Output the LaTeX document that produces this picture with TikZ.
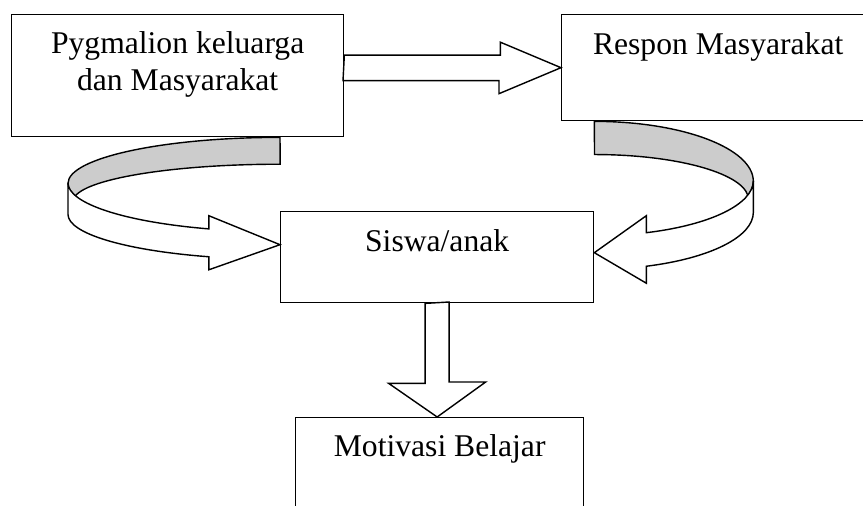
\documentclass[tikz,border=0pt]{standalone}
\usepackage{fontspec}
\setmainfont{Liberation Serif}
\usetikzlibrary{calc}

\tikzset{
  kotak/.style={draw, line width=0.8pt, anchor=north west, inner sep=0pt},
  teks/.style={anchor=base, inner sep=0pt, align=center, font=\fontsize{18}{21.5}\selectfont},
  blok/.style={draw, fill=white, line width=0.8pt, line join=miter},
  pita/.style={blok, fill=gray!40}
}

\begin{document}
\begin{tikzpicture}[x=0.02cm, y=-0.02cm]
\clip (0,0) rectangle (863,506);
\node[kotak, minimum width=6.64cm, minimum height=2.44cm] at (11,14) (pyg) {};
\node[kotak, minimum width=6.26cm, minimum height=2.12cm] at (561,14) (respon) {};
\node[kotak, minimum width=6.26cm, minimum height=1.82cm] at (280,211) (siswa) {};
\node[kotak, minimum width=5.76cm, minimum height=2.4cm] at (295,417) (motivasi) {};
\node[teks] at ([yshift=-1.54cm]pyg.north) (tpyg) {Pygmalion keluarga\\dan Masyarakat};
\node[teks] at ([yshift=-0.82cm]respon.north) (trespon) {Respon Masyarakat};
\node[teks] at ([yshift=-0.82cm]siswa.north) (tsiswa) {Siswa/anak};
\node[teks] at ([yshift=-0.8cm]motivasi.north) (tmotivasi) {Motivasi Belajar};
\draw[blok] (pyg.east |- respon.west) ++(0,-12.5) -- ++(156,0) -- ++(0,-13) -- (respon.west)
  -- ++(-62,26) -- ++(0,-13) -- ++(-156,0) -- cycle;
\draw[blok] (siswa.south) ++(-12,0) -- ++(0,80) -- ++(-36.5,0) -- (siswa.south |- motivasi.north)
  -- ++(48.5,-35) -- ++(-36.5,0) -- ++(0,-80) -- cycle;
\coordinate (kiri) at (siswa.west |- pyg.south);
\coordinate (kanan) at (siswa.east |- respon.south);
\draw[pita] (kiri) arc[start angle=-90, end angle=-180, x radius=212, y radius=46]
  arc[start angle=180, end angle=165, x radius=212, y radius=49]
  arc[start angle=188, end angle=270, x radius=207, y radius=37] -- cycle;
\draw[blok] (kiri) ++(-212,46) -- ++(0,31)
  arc[start angle=180, end angle=109.6, x radius=212, y radius=45]
  -- ++(0,13) -- ([yshift=0.25cm]siswa.west) -- ++(-71.2,-29) -- ++(0,13.2)
  arc[start angle=109.6, end angle=180, x radius=212, y radius=49] -- cycle;
\draw[pita] (kanan) arc[start angle=-90, end angle=0, x radius=159, y radius=60]
  arc[start angle=0, end angle=15, x radius=159, y radius=55]
  arc[start angle=-5, end angle=-90, x radius=154, y radius=45] -- cycle;
\draw[blok] (kanan) ++(159,60) -- ++(0,31)
  arc[start angle=0, end angle=70.9, x radius=159, y radius=57]
  -- ++(0,17) -- ([yshift=0.09cm]siswa.east) -- ++(52,-37) -- ++(0,17)
  arc[start angle=70.9, end angle=0, x radius=159, y radius=55] -- cycle;
\end{tikzpicture}
\end{document}
